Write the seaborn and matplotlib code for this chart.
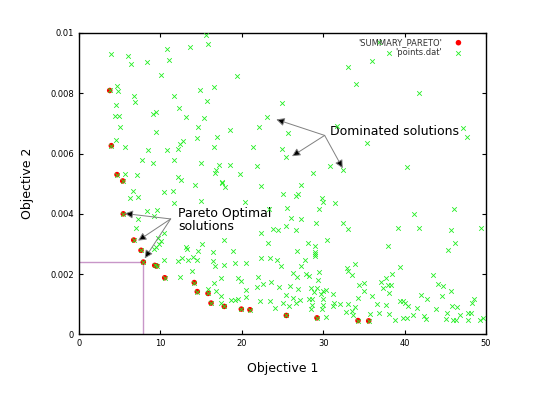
import matplotlib
matplotlib.use("Agg")
import matplotlib.pyplot as plt
import seaborn as sns
import pandas as pd

# pareto front (SUMMARY_PARETO)
pareto_x = [3.77, 3.97, 4.67, 5.37, 5.44, 6.72, 7.62, 7.9, 9.3, 9.54, 10.53, 14.16,
            14.53, 15.85, 16.22, 17.85, 19.94, 21.0, 25.47, 29.24, 34.28, 35.59]
pareto_y = [0.00809, 0.00626, 0.00530, 0.00509, 0.00400, 0.00313, 0.00279, 0.00240,
            0.00229, 0.00227, 0.00188, 0.00172, 0.00142, 0.00136, 0.00104, 0.00093,
            0.00084, 0.00082, 0.00063, 0.00055, 0.00046, 0.00045]

# remaining points of points.dat
dominated_x = [15.64, 10.85, 13.68, 15.85, 3.89, 6.02, 6.43, 8.39, 11.1, 10.07, 19.41, 4.63,
               4.83, 14.86, 16.58, 6.76, 6.88, 11.71, 15.72, 4.5, 12.33, 24.9, 4.42, 4.95,
               9.13, 9.42, 13.18, 15.36, 23.1, 5.0, 14.58, 22.11, 9.42, 18.59, 4.59, 5.65,
               8.44, 10.77, 12.2, 12.41, 12.81, 14.5, 17.0, 16.62, 21.38, 24.9, 7.74, 9.13,
               11.71, 15.03, 17.2, 18.59, 21.83, 5.69, 7.16, 16.66, 16.87, 19.74, 12.2, 12.53,
               17.6,
               36.8, 38.08, 35.95, 33.05, 34.0, 41.77, 25.64, 31.73, 47.17, 47.63, 35.38, 25.47,
               30.8, 32.4, 28.75, 40.26,
               14.29, 17.57, 17.9, 22.32, 6.6, 6.3, 7.25, 10.48, 11.59, 11.63, 14.99, 20.43,
               25.1, 9.62, 8.31, 9.25, 7.21, 23.34, 7.0, 10.44, 9.67, 10.04, 9.87, 9.5,
               9.17, 22.32, 23.83, 24.41, 17.77, 15.07, 13.15, 13.27, 14.58, 16.42, 18.96, 23.22,
               10.44, 12.12, 12.69, 13.39, 14.0, 14.5, 16.46, 16.66, 17.85, 19.13, 20.48, 22.32,
               23.42, 24.28, 24.86, 13.84, 12.37, 17.44, 19.49, 19.94, 21.99, 23.63, 22.64, 21.87,
               24.61, 16.54, 15.89, 16.79, 17.41, 19.13, 19.53, 20.48, 20.48, 18.63, 22.24, 23.42,
               24.04, 25.06, 17.41,
               27.27, 26.66, 26.9, 29.89, 30.01, 29.48, 31.49, 25.55, 26.09, 27.27, 29.12, 25.43,
               26.7, 32.39, 33.05, 41.12, 46.03, 39.19, 41.73, 45.66, 49.35, 30.47, 28.13, 28.99,
               28.95, 29.03, 28.99, 26.82, 27.8, 27.31, 38.0, 46.23, 45.33, 27.92, 28.29, 29.44,
               29.32, 26.33, 26.82, 32.88, 33.08, 33.57, 33.95, 39.44, 38.45, 37.75, 37.06, 37.96,
               38.37, 37.31, 38.05, 43.49, 44.1, 44.72, 45.66, 42.05, 42.75, 44.63, 48.53, 48.24,
               25.96, 26.87, 25.47, 26.29, 27.15, 28.5, 28.83, 29.24, 29.93, 29.69, 30.38, 31.17,
               28.21, 28.62, 29.93, 25.76, 26.7, 28.62, 28.54, 29.98, 29.85, 31.29, 31.2, 32.1,
               33.0, 32.84, 33.54, 33.66, 30.38, 34.28, 35.01, 34.44, 35.01, 36.03, 35.75, 36.65,
               36.86, 37.75, 38.12, 38.86, 39.47, 39.76, 40.01, 40.38, 39.76, 40.33, 41.07, 41.48,
               42.42, 42.67, 43.9, 45.21, 45.09, 45.82, 46.48, 45.91, 46.35, 46.84, 47.83, 48.2,
               47.75, 49.26, 49.63, 33.9]
dominated_y = [0.00993, 0.00945, 0.00953, 0.00964, 0.00931, 0.00923, 0.00898, 0.00902, 0.00909, 0.00859, 0.00856, 0.00823,
               0.00806, 0.00811, 0.00820, 0.00790, 0.00770, 0.00790, 0.00775, 0.00762, 0.00752, 0.00768, 0.00724, 0.00726,
               0.00730, 0.00737, 0.00721, 0.00718, 0.00722, 0.00687, 0.00689, 0.00687, 0.00671, 0.00677, 0.00644, 0.00621,
               0.00610, 0.00611, 0.00614, 0.00633, 0.00642, 0.00651, 0.00656, 0.00621, 0.00622, 0.00615, 0.00579, 0.00569,
               0.00578, 0.00567, 0.00561, 0.00562, 0.00557, 0.00532, 0.00528, 0.00534, 0.00545, 0.00531, 0.00522, 0.00512,
               0.00506,
               0.00970, 0.00932, 0.00908, 0.00886, 0.00832, 0.00801, 0.00667, 0.00691, 0.00684, 0.00654, 0.00634, 0.00587,
               0.00557, 0.00545, 0.00536, 0.00556,
               0.00495, 0.00503, 0.00489, 0.00492, 0.00475, 0.00453, 0.00455, 0.00473, 0.00476, 0.00436, 0.00441, 0.00440,
               0.00465, 0.00413, 0.00408, 0.00392, 0.00383, 0.00415, 0.00354, 0.00338, 0.00321, 0.00310, 0.00300, 0.00291,
               0.00282, 0.00335, 0.00350, 0.00347, 0.00314, 0.00301, 0.00290, 0.00282, 0.00278, 0.00274, 0.00278, 0.00303,
               0.00248, 0.00242, 0.00254, 0.00247, 0.00258, 0.00246, 0.00242, 0.00228, 0.00231, 0.00237, 0.00237, 0.00252,
               0.00252, 0.00247, 0.00228, 0.00210, 0.00191, 0.00188, 0.00188, 0.00177, 0.00191, 0.00175, 0.00166, 0.00157,
               0.00157, 0.00172, 0.00151, 0.00144, 0.00127, 0.00114, 0.00118, 0.00147, 0.00123, 0.00115, 0.00112, 0.00112,
               0.00089, 0.00105, 0.00104,
               0.00494, 0.00459, 0.00466, 0.00451, 0.00439, 0.00417, 0.00435, 0.00419, 0.00386, 0.00383, 0.00370, 0.00360,
               0.00345, 0.00368, 0.00350, 0.00399, 0.00416, 0.00352, 0.00352, 0.00346, 0.00352, 0.00314, 0.00304, 0.00292,
               0.00275, 0.00267, 0.00260, 0.00276, 0.00247, 0.00227, 0.00292, 0.00302, 0.00279, 0.00200, 0.00194, 0.00207,
               0.00180, 0.00203, 0.00189, 0.00221, 0.00211, 0.00198, 0.00232, 0.00225, 0.00201, 0.00187, 0.00174, 0.00163,
               0.00165, 0.00154, 0.00137, 0.00197, 0.00168, 0.00160, 0.00143, 0.00130, 0.00117, 0.00126, 0.00119, 0.00103,
               0.00162, 0.00150, 0.00131, 0.00121, 0.00115, 0.00153, 0.00141, 0.00153, 0.00145, 0.00133, 0.00147, 0.00133,
               0.00118, 0.00118, 0.00118, 0.00094, 0.00105, 0.00098, 0.00083, 0.00098, 0.00084, 0.00103, 0.00094, 0.00100,
               0.00100, 0.00075, 0.00077, 0.00065, 0.00057, 0.00122, 0.00171, 0.00163, 0.00144, 0.00127, 0.00067, 0.00101,
               0.00071, 0.00098, 0.00068, 0.00049, 0.00111, 0.00112, 0.00105, 0.00094, 0.00056, 0.00056, 0.00065, 0.00087,
               0.00060, 0.00050, 0.00084, 0.00072, 0.00051, 0.00095, 0.00091, 0.00047, 0.00047, 0.00066, 0.00072, 0.00070,
               0.00047, 0.00048, 0.00056, 0.00092]

# pareto points are part of points.dat too
points_x = dominated_x + pareto_x
points_y = dominated_y + pareto_y

pareto_df = pd.DataFrame({"obj1": pareto_x, "obj2": pareto_y})
points_df = pd.DataFrame({"obj1": points_x, "obj2": points_y})

x_ticks = [0, 10, 20, 30, 40, 50]
y_ticks = [0, 0.002, 0.004, 0.006, 0.008, 0.01]
y_tick_labels = ["0", "0.002", "0.004", "0.006", "0.008", "0.01"]

fig = plt.figure(figsize=(5.39, 4.01), dpi=100)
ax = fig.add_axes([0.1466, 0.166, 0.755, 0.752])

sns.scatterplot(data=pareto_df, x="obj1", y="obj2", color="red", marker="o", s=16,
                edgecolor="none", label="'SUMMARY_PARETO'", ax=ax, zorder=3)
sns.scatterplot(data=points_df, x="obj1", y="obj2", color="#22ee22", marker="x", s=11,
                linewidth=0.6, label="'points.dat'", ax=ax, zorder=4)

# guide lines to the selected pareto point
sel_x, sel_y = pareto_x[7], pareto_y[7]
ax.plot([0, sel_x], [sel_y, sel_y], color="#c896c8", lw=1, zorder=2)
ax.plot([sel_x, sel_x], [0, sel_y], color="#c896c8", lw=1, zorder=2)

arrow = dict(arrowstyle="-|>", color="gray", fc="black", lw=0.7, mutation_scale=12, shrinkA=0, shrinkB=0)
for tip in [(24.24, 0.00713), (26.17, 0.00591), (32.4, 0.00551)]:
    ax.annotate("", xy=tip, xytext=(30.18, 0.0066), arrowprops=arrow, zorder=5)
ax.text(30.8, 0.00674, "Dominated solutions", fontsize=9, va="center", ha="left")

for tip in [(5.61, 0.00401), (7.25, 0.00311), (8.07, 0.00252)]:
    ax.annotate("", xy=tip, xytext=(11.26, 0.00383), arrowprops=arrow, zorder=5)
ax.text(12.2, 0.00378, "Pareto Optimal\nsolutions", fontsize=9, va="center", ha="left",
        linespacing=1.0)

ax.set_xlim(0, 50)
ax.set_ylim(0, 0.01)
ax.set_xticks(x_ticks)
ax.set_yticks(y_ticks)
ax.set_yticklabels(y_tick_labels)
ax.tick_params(direction="in", top=True, right=True, length=3, width=0.8, labelsize=6)
for s in ax.spines.values():
    s.set_linewidth(1)
ax.set_xlabel("Objective 1", fontsize=9, labelpad=10)
ax.set_ylabel("Objective 2", fontsize=9, labelpad=12)

leg = ax.legend(loc="upper right", frameon=False, markerfirst=False, fontsize=6,
                handletextpad=1.2, labelspacing=0.15, borderaxespad=0.2,
                handlelength=1.5, bbox_to_anchor=(0.96, 1.0))
for t in leg.get_texts():
    t.set_color("#333333")

fig.savefig("out.png", dpi=100)
